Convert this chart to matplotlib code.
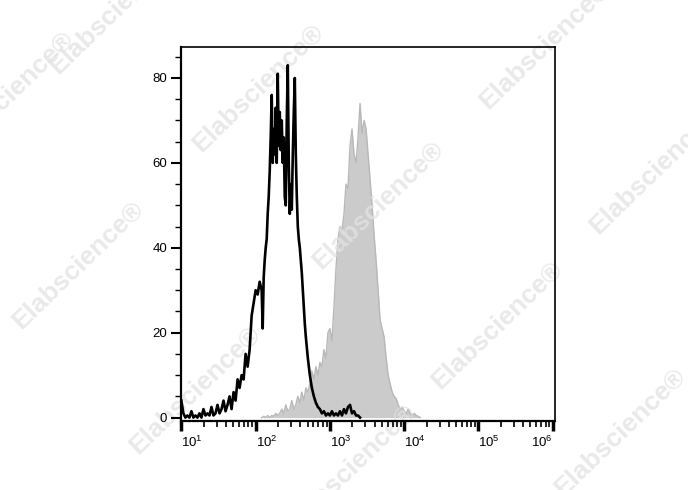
import matplotlib
matplotlib.use("Agg")
import matplotlib.pyplot as plt
import numpy as np
from matplotlib.ticker import LogLocator, FixedLocator, NullFormatter, MultipleLocator

plt.rcParams['font.family'] = ['Liberation Sans', 'DejaVu Sans']
plt.rcParams['mathtext.fontset'] = 'custom'
plt.rcParams['mathtext.rm'] = 'Liberation Sans'

# ---- data: histogram channels (74 channels per decade starting at 10^1) ----
black_ch = (list(range(0, 80, 2)) + list(range(80, 124, 1)) + list(range(124, 180, 2)))
black_counts = ([4, 1, 0, 0.5, 0, 1.5, 0, 0.5, 0, 1, 0, 2, 0.5, 1, 0.5, 2.5, 0.5, 1, 3, 1,
                 2, 4, 1.5, 3, 5, 2, 6, 4, 9, 7, 10, 9, 15, 12, 16, 24, 27, 30, 29, 32]
                + [30, 21, 33, 37, 40, 42, 48, 52, 58, 66, 76, 60, 68, 62, 73, 60, 81, 64, 72, 63,
                   70, 60, 66, 52, 50, 70, 83, 60, 48, 55, 49, 62, 72, 80, 62, 52, 45, 42, 40, 37,
                   34, 30, 26, 22]
                + [19, 14, 10, 7, 5, 3.5, 2.5, 2, 1, 1.5, 0.5, 1, 0.5, 1.5, 0.5, 1, 0.5, 1.5,
                   0.5, 2, 1, 2.5, 3, 1, 1.5, 0.5, 0.5, 0])
gray_ch = list(range(80, 240, 2))
gray_counts = [0, 0.3, 0, 0.5, 0, 0.5, 0.3, 1, 0.5, 1, 2, 1, 3, 1.5, 2, 4, 2, 3, 5, 3.5,
               6, 4, 7, 6, 8, 11, 9, 12, 10, 13, 12, 16, 14, 20, 21, 18, 26, 35, 42, 45,
               44, 48, 55, 54, 64, 68, 62, 60, 66, 74, 67, 70, 68, 62, 56, 50, 43, 37, 30, 23,
               21, 19, 14, 10, 8, 6, 5, 4.5, 3, 2, 2.5, 1.5, 1, 2, 1, 0.5, 1, 0.5, 0.3, 0]
CH_PER_DECADE = 74.0
black_x = 10 ** (1 + np.array(black_ch) / CH_PER_DECADE)
gray_x = 10 ** (1 + np.array(gray_ch) / CH_PER_DECADE)

x_ticks = [1e1, 1e2, 1e3, 1e4, 1e5, 1e6]
x_labels = ['$10^{1}$', '$10^{2}$', '$10^{3}$', '$10^{4}$', '$10^{5}$', '$10^{6}$']
y_ticks = [0, 20, 40, 60, 80]

fig = plt.figure(figsize=(6.88, 4.90), dpi=100)
ax = fig.add_axes([181 / 688, 1 - 421 / 490, (555 - 181) / 688, (421 - 47) / 490])

ax.fill_between(gray_x, gray_counts, 0, color='#cbcbcb', lw=0, zorder=2)
ax.plot(gray_x, gray_counts, color='#b8b8b8', lw=1.0, zorder=2.1)
ax.plot(black_x, black_counts, color='black', lw=1.9, zorder=3)

# watermarks (between the filled histogram and the black line)
wm = [(115, 10), (258, 88), (378, 205), (545, 45), (655, 170), (78, 265),
      (195, 390), (497, 325), (620, 432), (8, 95), (350, 468)]
for (px, py) in wm:
    ax.text(px / 688, 1 - py / 490, 'Elabscience\u00ae', rotation=44, ha='center', va='center',
            fontsize=19, fontweight='bold', color='#e2e2e2', alpha=0.75,
            transform=fig.transFigure, clip_on=False, zorder=2.5)

ax.set_xscale('log')
ax.set_xlim(10 ** 0.995, 10 ** 6.03)
ax.set_ylim(-0.8, 87.3)

ax.xaxis.set_major_locator(FixedLocator(x_ticks))
ax.set_xticklabels(x_labels)
ax.xaxis.set_minor_locator(LogLocator(base=10, subs=np.arange(2, 10), numticks=20))
ax.xaxis.set_minor_formatter(NullFormatter())
ax.set_yticks(y_ticks)
ax.yaxis.set_minor_locator(MultipleLocator(5))
ax.xaxis.set_zorder(4)
ax.yaxis.set_zorder(4)

for sp in ax.spines.values():
    sp.set_linewidth(1.2)
    sp.set_zorder(4)
ax.spines['bottom'].set_linewidth(1.6)
ax.spines['left'].set_linewidth(1.6)

ax.tick_params(axis='x', which='major', direction='out', length=7, width=2.5, labelsize=9.5, pad=3)
ax.tick_params(axis='x', which='minor', direction='out', length=4, width=1.2)
ax.tick_params(axis='y', which='major', direction='out', length=7, width=1.5, labelsize=9.5, pad=3)
ax.tick_params(axis='y', which='minor', direction='out', length=4, width=1.0)

for i, lab in enumerate(ax.get_xticklabels()):
    lab.set_ha('right' if i == len(x_ticks) - 1 else 'left')

fig.savefig('out.png', dpi=100)
